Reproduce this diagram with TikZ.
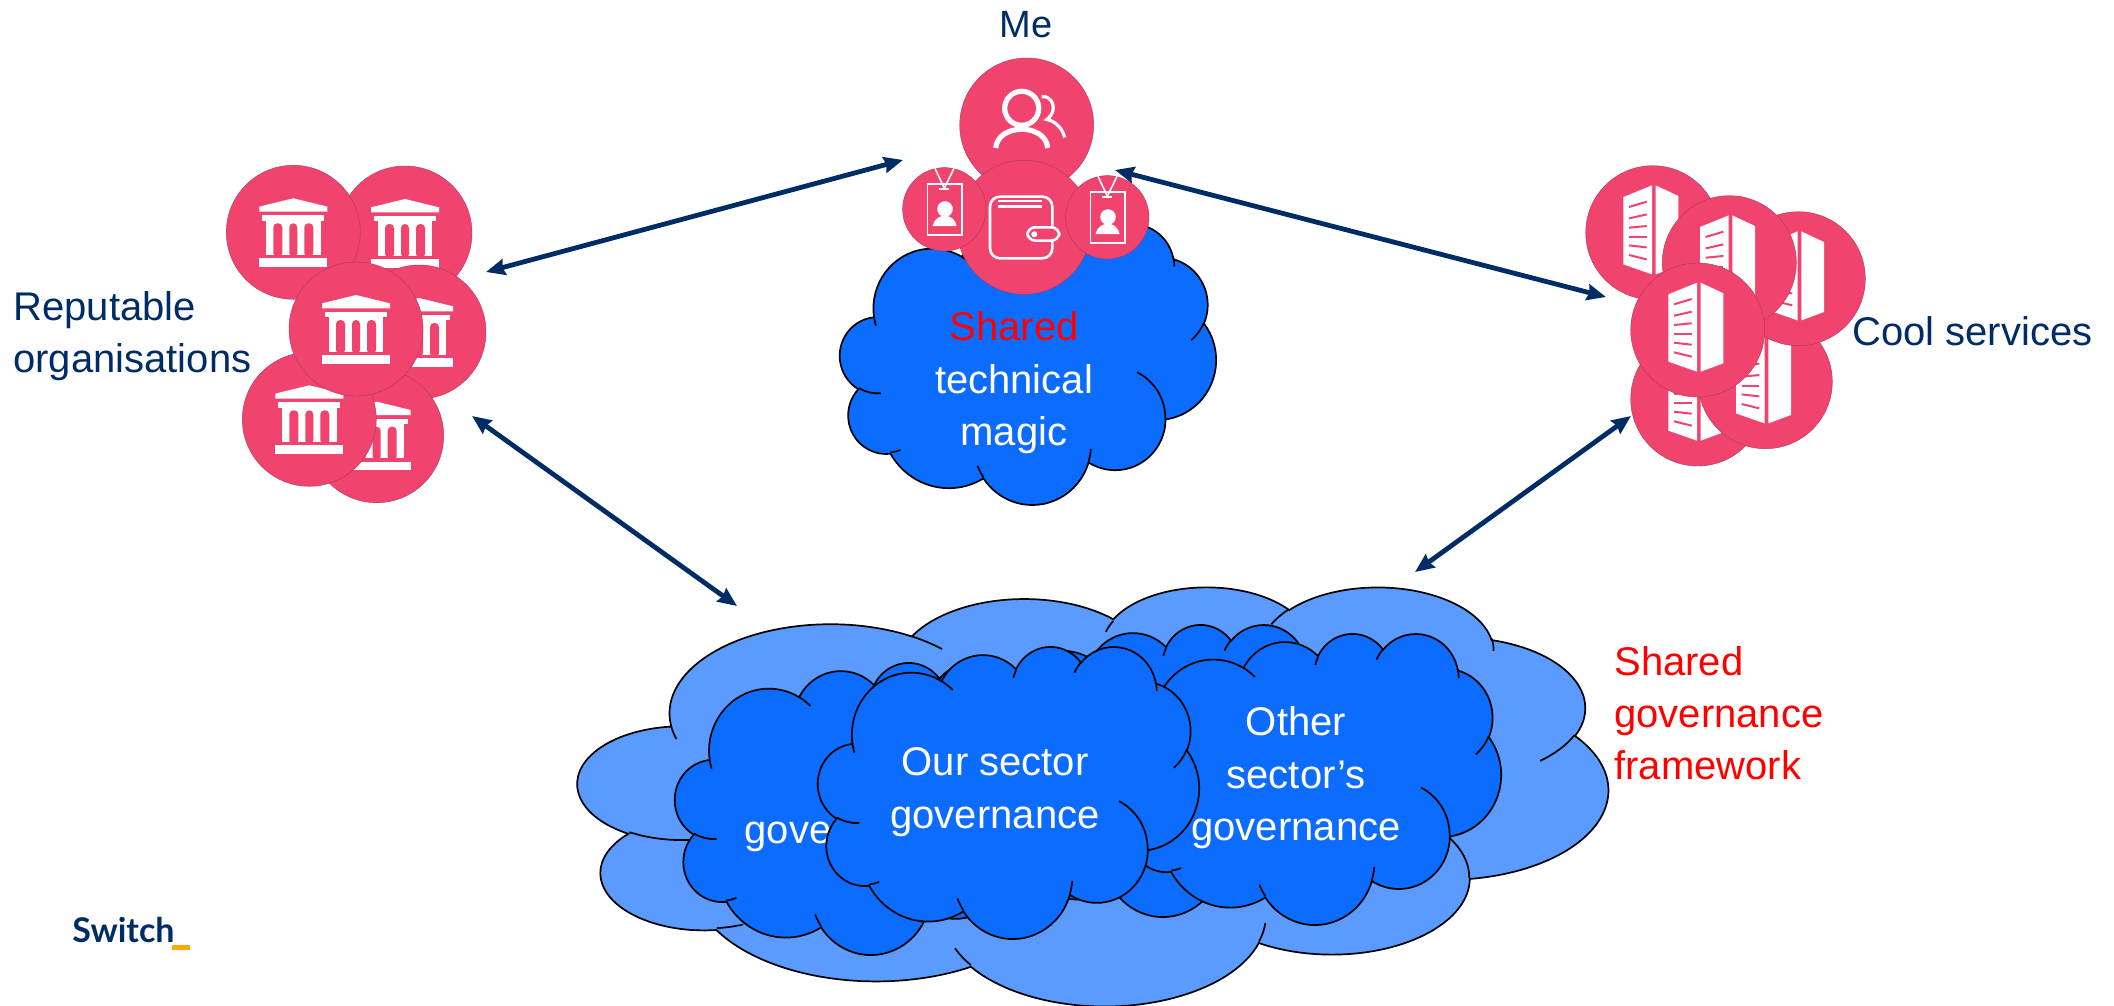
\documentclass[tikz,border=0pt]{standalone}
\usepackage{fontspec}
\setmainfont{Liberation Sans}
\newfontfamily\logofont{Lato}
\usetikzlibrary{arrows.meta}

\definecolor{discpink}{HTML}{F0446F}
\definecolor{discedge}{HTML}{A83A58}
\definecolor{navyline}{HTML}{002C66}
\definecolor{deepcloud}{HTML}{0B6CFF}
\definecolor{paleCloud}{HTML}{5B9BFF}
\definecolor{logobar}{HTML}{FFAA00}

\tikzset{
  declare function={lobeang(\rx,\ry,\a)=atan2(\rx*sin(\a),\ry*cos(\a));},
  disc/.style={circle,fill=discpink,draw=discedge,line width=0.2pt,inner sep=0pt,minimum size=67pt},
  smalldisc/.style={disc,minimum size=41.7pt},
  linkarrow/.style={<->,>={Stealth[length=9.5pt,width=8pt,inset=1pt]},line width=2.4pt,navyline},
  navylabel/.style={navyline,font=\fontsize{20}{26}\selectfont,align=left,inner sep=0pt},
  redlabel/.style={navylabel,red},
  cloudlabel/.style={white,font=\fontsize{20}{26.3}\selectfont,align=center,inner sep=0pt},
  pics/bankicon/.style={code={
    \fill[white] (-34,-25.7)--(0,-34)--(34,-25.7)--(34,-20.7)--(-34,-20.7)--cycle;
    \fill[white] (-31,-17) rectangle (31,-11.7);
    \fill[white] (-27.3,-11.7) rectangle (27.3,22.7);
    \fill[discpink,rounded corners=2pt] (-20,25)--(-20,-9)--(-11,-9)--(-11,25)--cycle;
    \fill[discpink,rounded corners=2pt] (-4,25)--(-4,-9)--(4,-9)--(4,25)--cycle;
    \fill[discpink,rounded corners=2pt] (11,25)--(11,-9)--(20,-9)--(20,25)--cycle;
    \fill[white] (-34,26) rectangle (34,34.7);
  }},
  pics/towericon/.style={code={
    \fill[white] (-29.3,-35.7)--(-0.7,-47.3)--(-0.7,41.7)--(-29.3,31.7)--cycle;
    \fill[white] (3,-47.3)--(25.7,-36.7)--(25.7,33.3)--(3,41.7)--cycle;
    \draw[discpink,line width=1pt] (-23.7,-25.7)--(-6,-31);
    \draw[discpink,line width=1pt] (-23.7,-14.3)--(-6,-18.3);
    \draw[discpink,line width=1pt] (-23.7,-5)--(-6,-6.7);
    \draw[discpink,line width=1pt] (-23.7,4)--(-6,4);
    \draw[discpink,line width=1pt] (-23.7,12.7)--(-6,14.7);
    \draw[discpink,line width=1pt] (-23.7,22.3)--(-6,26.7);
  }},
  pics/badgeicon/.style={code={
    \draw[white,line width=0.8pt] (-17,-25.3) rectangle (17.7,25.7);
    \draw[white,line width=0.8pt] (-9.3,-41)--(0,-21)--(9.7,-41);
    \draw[white,line width=0.8pt] (-5,-20.3)--(5,-20.3);
    \fill[white] (0.7,-0.3) circle[radius=3.9pt];
    \fill[white] (-11.7,16.7) .. controls (-9,3) and (10,3) .. (12.3,16.7)--cycle;
  }},
  pics/personicon/.style={code={
    \draw[white,line width=2.6pt] (-5,-16.7) circle[radius=8.5pt];
    \draw[white,line width=2.6pt] (-31,23) .. controls (-29,-2) and (19,-2) .. (21,23);
    \draw[white,line width=1.6pt] (15,-28.3) .. controls (26,-30) and (32,-14) .. (20,-5.5)
      .. controls (29,-4) and (36,4) .. (38,12.5);
  }},
  pics/walleticon/.style={code={
    \draw[white,line width=1.3pt,rounded corners=5pt] (-34,-30.7) rectangle (28.3,31);
    \draw[white,line width=1.3pt] (-25.7,-26.3)--(17.7,-26.3);
    \draw[white,line width=1.3pt] (-25.7,-20.7)--(17.7,-20.7);
    \filldraw[fill=discpink,draw=white,line width=1.3pt,rounded corners=4pt] (3.3,0) rectangle (35.3,13.3);
    \fill[white] (10.3,7) circle[radius=1.5pt];
  }}
}

\newcommand{\lobe}[4]{arc[start angle={lobeang(#1,#2,#3)},delta angle={mod(lobeang(#1,#2,#3+#4)-lobeang(#1,#2,#3)+720,360)},x radius=#1pt,y radius=#2pt]}

\newcommand{\puffcloud}[5]{
  \begin{scope}[shift={(#1,#2)},xscale=#3*0.5/432,yscale=-#4*0.5/432]
    \filldraw[fill=#5,draw=black,line width=0.85pt] (39pt,143.7pt)
      \lobe{67.53}{91.9}{-190.4875}{123.7805}
      \lobe{53.33}{72.67}{-144.1024}{89.9452}
      \lobe{43.65}{59.45}{-145.8079}{99.723}
      \lobe{48.57}{65.95}{-130.9861}{117.2417}
      \lobe{53.33}{72.73}{-78.7089}{109.0269}
      \lobe{67.75}{92.2}{-46.2673}{130.269}
      \lobe{57.85}{78.67}{0.625}{114.0333}
      \lobe{67.52}{92.15}{22.4516}{115.1726}
      \lobe{77.2}{105.43}{66.2426}{75.711}
      \lobe{43.6}{59.18}{-274.9421}{146.7356}
      \lobe{43.45}{59.45}{-246.8285}{152.5189}
      --cycle;
    \draw[black,line width=0.85pt]
      (46.93pt,261.77pt) \lobe{43.45}{59.45}{86.742}{26.4295}
      (69.28pt,348.99pt) \lobe{43.6}{59.18}{73.6105}{11.4475}
      (164.78pt,390.9pt) \lobe{67.52}{92.15}{137.6242}{14.0811}
      (288.27pt,347.51pt) \lobe{67.52}{92.15}{6.4533}{15.9984}
      (341.29pt,229.54pt) \lobe{57.85}{78.67}{-70.2924}{70.9174}
      (417.98pt,153.54pt) \lobe{53.33}{72.73}{30.318}{27.7515}
      (383.24pt,54.26pt) \lobe{48.57}{65.95}{-13.7443}{14.8589}
      (290.78pt,39.52pt) \lobe{48.57}{65.95}{-147.9}{16.9}
      (221.41pt,47.2pt) \lobe{43.65}{59.45}{-160}{14.2}
      (140pt,51.92pt) \lobe{67.53}{91.9}{-66.7}{12}
      (41.27pt,157.89pt) \lobe{67.53}{91.9}{157.6}{11.9};
  \end{scope}
}

\begin{document}
\begin{tikzpicture}[x=0.5pt,y=-0.5pt]
\useasboundingbox (0,0) rectangle (2114,1006);

\puffcloud{840}{223}{376}{281}{deepcloud}
\puffcloud{578}{586}{1030}{419}{paleCloud}
\puffcloud{968}{624}{381}{292}{deepcloud}
\puffcloud{675}{662}{383}{292}{deepcloud}
\puffcloud{1120}{633}{381}{291}{deepcloud}
\node[cloudlabel,anchor=base] (govehidden) at (788,843) {gove};
\puffcloud{818}{646}{381}{292}{deepcloud}

\node[cloudlabel] (techcloud) at (1014,383) {\textcolor{red}{Shared}\\technical\\magic};
\node[cloudlabel] (oursector) at (995,792) {Our sector\\governance};
\node[cloudlabel] (othersector) at (1296,778) {Other\\sector’s\\governance};

\foreach \name/\x/\y in {orgB/405/233,orgA/293.3/232.3,orgD/419/332,orgF/376.7/435.7,orgE/309.3/419.3,orgC/356/329}{
  \node[disc] (\name) at (\x,\y) {};
  \pic at (\name) {bankicon};
}

\foreach \name/\x/\y in {svcE/1697.7/399,svcF/1765.3/381.7,svcA/1652.7/232.7,svcC/1798.3/278.7,svcB/1729.3/262.7,svcD/1697.7/330}{
  \node[disc] (\name) at (\x,\y) {};
  \pic at (\name) {towericon};
}

\node[disc] (person) at (1026.7,125) {};
\pic at (person) {personicon};
\node[disc] (wallet) at (1024,227.3) {};
\pic at (wallet) {walleticon};
\node[smalldisc] (badgeL) at (944.3,209.3) {};
\pic at (badgeL) {badgeicon};
\node[smalldisc] (badgeR) at (1107.3,217.3) {};
\pic at (badgeR) {badgeicon};

\node[navylabel,anchor=base] (melabel) at (1026,38) {\fontsize{19}{24}\selectfont Me};
\node[navylabel,anchor=north west] (orgslabel) at (13,291) {Reputable\\organisations};
\node[navylabel,anchor=base west] (svclabel) at (1852,345) {Cool services};
\node[redlabel,anchor=north west] (framework) at (1614,646) {Shared\\governance\\framework};

\node[navyline,inner sep=0pt,anchor=base west,font=\logofont\bfseries\fontsize{17}{20}\selectfont] (logotext) at (72,942) {Switch};
\fill[logobar] (172,945) rectangle (190,950);

\coordinate (orgsTop) at (486,272);
\coordinate (meLeft) at (903,160);
\coordinate (meRight) at (1115,170);
\coordinate (svcTop) at (1606,297);
\coordinate (orgsBottom) at (472,416);
\coordinate (govLeft) at (737,606);
\coordinate (svcBottom) at (1631,416);
\coordinate (govRight) at (1415,572);
\draw[linkarrow] (orgsTop)--(meLeft);
\draw[linkarrow] (meRight)--(svcTop);
\draw[linkarrow] (orgsBottom)--(govLeft);
\draw[linkarrow] (svcBottom)--(govRight);
\end{tikzpicture}
\end{document}
